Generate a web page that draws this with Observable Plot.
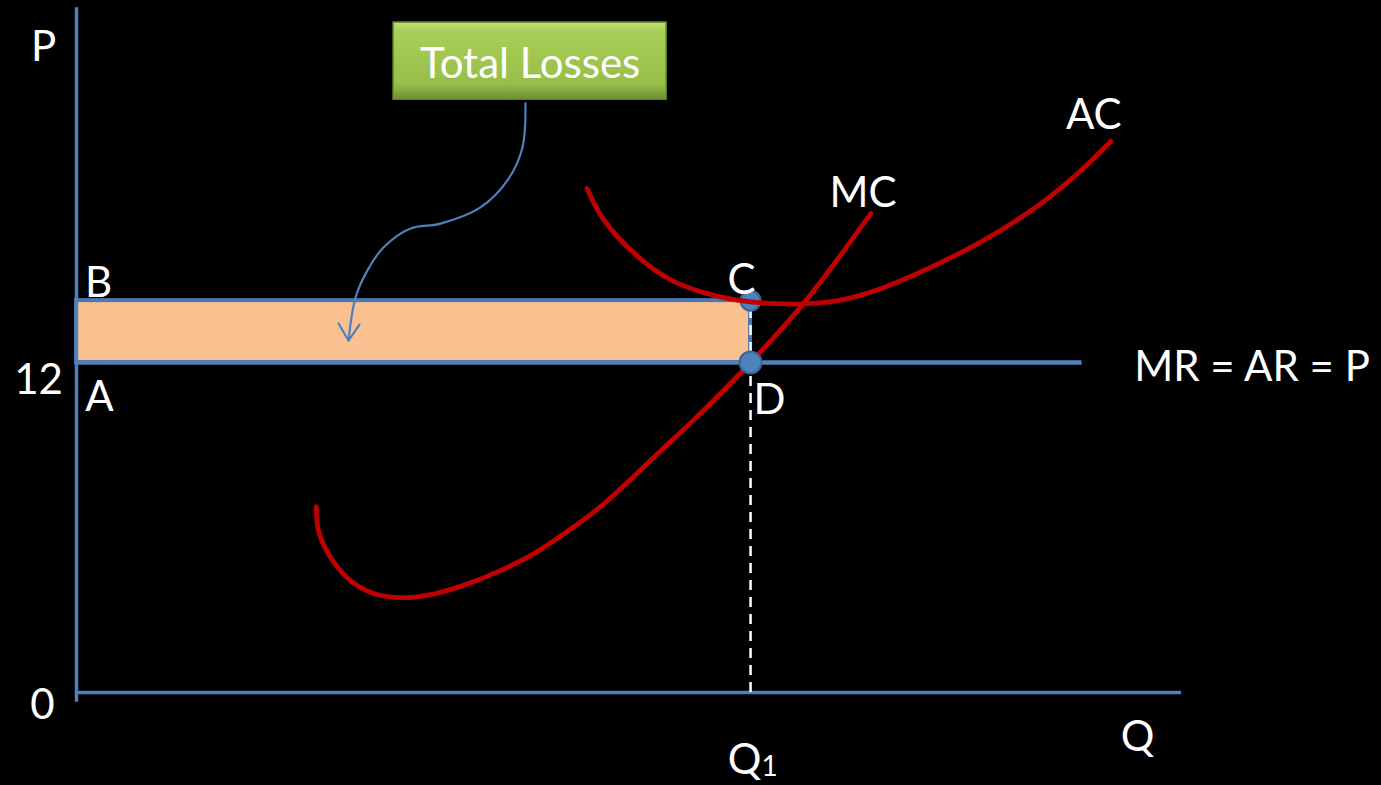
<!DOCTYPE html>
<html>
<head>
<meta charset="utf-8">
<script src="https://cdn.jsdelivr.net/npm/d3@7"></script>
<script src="https://cdn.jsdelivr.net/npm/@observablehq/plot@0.6"></script>
<style>
  html, body { margin: 0; padding: 0; background: #000; }
  #chart svg { display: block; }
</style>
</head>
<body>
<div id="chart"></div>
<script>
// Axis extents (quantity, price)
const qMax = 100;
const pMax = 24.9;

// Market price, profit-maximising output and average cost there
const price = 12;
const q1 = 61;
const acAtQ1 = 14.25;
const mrEndQ = 91;

// Marginal cost curve
const mcQ    = [21.7, 21.9, 23.0, 24.8, 26.9, 29.6, 32.3, 35.4, 38.4, 41.4, 44.4, 47.4, 52.9, 57.0, 61.0, 65.8, 71.9];
const mcCost = [6.76, 5.89, 4.91, 4.07, 3.60, 3.45, 3.58, 3.95, 4.44, 5.05, 5.85, 6.75, 8.80, 10.36, 12.0, 14.15, 17.42];

// Average cost curve
const acQ    = [46.2, 47.7, 50.8, 53.8, 56.7, 59.8, 62.8, 65.8, 68.9, 71.0, 73.0, 75.7, 78.8, 81.8, 84.8, 87.9, 90.9, 93.6];
const acCost = [18.33, 17.2, 15.85, 15.0, 14.55, 14.27, 14.15, 14.13, 14.25, 14.45, 14.72, 15.17, 15.75, 16.38, 17.1, 17.97, 18.98, 20.04];

// Callout arrow from the "Total Losses" box into the loss area
const calloutQ = [40.63, 40.36, 39.0, 36.56, 32.94, 30.23, 27.78, 26.33, 25.25, 24.62];
const calloutP = [21.42, 19.82, 18.62, 17.64, 17.05, 16.87, 16.18, 15.35, 14.36, 12.8];
const headQ = [23.71, 24.62, 25.61];
const headP = [13.42, 12.8, 13.38];

// Extent of the "Total Losses" box
const boxQ = [28.7, 53.4];
const boxP = [21.56, 24.36];

const zip = (xs, ys) => xs.map((x, i) => ({q: x, p: ys[i]}));
const mc = zip(mcQ, mcCost);
const ac = zip(acQ, acCost);
const callout = zip(calloutQ, calloutP);
const head = zip(headQ, headP);

const blue = "#4F81BD";
const red = "#C00000";
const font = 42;

const plot = Plot.plot({
  width: 1381,
  height: 785,
  marginTop: 0, marginRight: 0, marginBottom: 0, marginLeft: 0,
  style: {background: "#000", fontFamily: "Lato, 'Open Sans', sans-serif"},
  x: {domain: [0, qMax], range: [76, 1181], axis: null},
  y: {domain: [0, 25], range: [692, 4.5], axis: null},
  marks: [
    // loss rectangle
    Plot.rect([{}], {x1: 0, x2: q1, y1: price, y2: acAtQ1, fill: "#FAC090", stroke: "#4A78B0", strokeWidth: 4}),
    // axes
    Plot.ruleX([0], {y1: -0.35, y2: pMax, stroke: blue, strokeWidth: 3.5}),
    Plot.ruleY([0], {x1: 0, x2: qMax, stroke: blue, strokeWidth: 3.5}),
    // MR = AR = P
    Plot.ruleY([price], {x1: 0, x2: mrEndQ, stroke: blue, strokeWidth: 4.5}),
    // Q1 drop line
    Plot.ruleX([q1], {y1: 0, y2: acAtQ1, stroke: "white", strokeWidth: 2.5, strokeDasharray: "10,7"}),
    // point C
    Plot.dot([{q: q1, p: acAtQ1}], {x: "q", y: "p", r: 10, fill: blue, stroke: "#3A6398", strokeWidth: 2}),
    // cost curves
    Plot.line(ac, {x: "q", y: "p", curve: "catmull-rom", stroke: red, strokeWidth: 4.8}),
    Plot.line(mc, {x: "q", y: "p", curve: "catmull-rom", stroke: red, strokeWidth: 4.8}),
    // point D
    Plot.dot([{q: q1, p: price}], {x: "q", y: "p", r: 11, fill: blue, stroke: "#3A6398", strokeWidth: 2}),
    // callout box and arrow
    Plot.rect([{}], {x1: boxQ[0], x2: boxQ[1], y1: boxP[0], y2: boxP[1], fill: "url(#boxGrad)", stroke: "#6E8E35", strokeWidth: 1.5}),
    Plot.text(["Total Losses"], {x: (boxQ[0] + boxQ[1]) / 2, y: (boxP[0] + boxP[1]) / 2, dy: 3, fill: "white", fontSize: font}),
    Plot.line(callout, {x: "q", y: "p", curve: "catmull-rom", stroke: blue, strokeWidth: 2.2}),
    Plot.line(head, {x: "q", y: "p", stroke: blue, strokeWidth: 2.2}),
    // axis labels
    Plot.text(["P"], {x: 0, y: pMax, dx: -33, dy: 40, fill: "white", fontSize: font}),
    Plot.text(["12"], {x: 0, y: price, dx: -38, dy: 18, fill: "white", fontSize: font}),
    Plot.text(["0"], {x: 0, y: 0, dx: -34, dy: 13, fill: "white", fontSize: font}),
    Plot.text(["Q"], {x: qMax, y: 0, dx: -44, dy: 45, fill: "white", fontSize: font}),
    Plot.text(["Q"], {x: q1, y: 0, dx: -6, dy: 68, fill: "white", fontSize: font}),
    Plot.text(["1"], {x: q1, y: 0, dx: 19, dy: 75, fill: "white", fontSize: 28}),
    // point labels
    Plot.text(["B"], {x: 0, y: acAtQ1, dx: 22, dy: -17, fill: "white", fontSize: font}),
    Plot.text(["A"], {x: 0, y: price, dx: 23, dy: 35, fill: "white", fontSize: font}),
    Plot.text(["C"], {x: q1, y: acAtQ1, dx: -9, dy: -20, fill: "white", fontSize: font}),
    Plot.text(["D"], {x: q1, y: price, dx: 19, dy: 38, fill: "white", fontSize: font}),
    // curve labels
    Plot.text(["MC"], {x: mcQ[mcQ.length - 1], y: mcCost[mcCost.length - 1], dx: -8, dy: -20, fill: "white", fontSize: font}),
    Plot.text(["AC"], {x: acQ[acQ.length - 1], y: acCost[acCost.length - 1], dx: -17, dy: -26, fill: "white", fontSize: font}),
    Plot.text(["MR = AR = P"], {x: mrEndQ, y: price, dx: 170, dy: 5, fill: "white", fontSize: font})
  ]
});

// gradient for the callout box
const defs = d3.select(plot).insert("defs", ":first-child");
const grad = defs.append("linearGradient").attr("id", "boxGrad").attr("x1", 0).attr("y1", 0).attr("x2", 0).attr("y2", 1);
grad.append("stop").attr("offset", "0%").attr("stop-color", "#BEDF73");
grad.append("stop").attr("offset", "12%").attr("stop-color", "#A9CF58");
grad.append("stop").attr("offset", "80%").attr("stop-color", "#98BE4A");
grad.append("stop").attr("offset", "100%").attr("stop-color", "#6F8F33");

document.getElementById("chart").append(plot);
</script>
</body>
</html>
